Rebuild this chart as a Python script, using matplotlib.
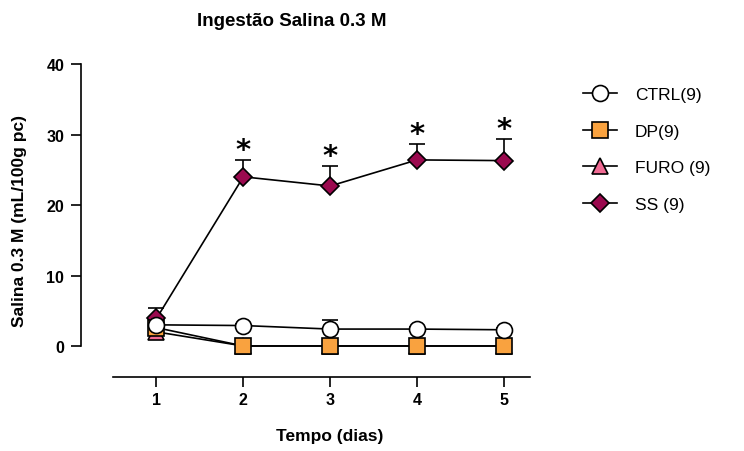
import numpy as np
import matplotlib
matplotlib.use("Agg")
import matplotlib.pyplot as plt
from matplotlib.lines import Line2D

plt.rcParams["font.family"] = ["Liberation Sans", "DejaVu Sans"]

# -------------------------
# Data
# -------------------------
days = [1, 2, 3, 4, 5]

ctrl = [3.0, 2.9, 2.4, 2.4, 2.3]
ctrl_err = [0.3, 0.2, 1.3, 0.3, 0.2]

dp = [2.6, 0.0, 0.0, 0.0, 0.0]
dp_err = [0.2, 0.0, 0.0, 0.0, 0.0]

furo = [2.0, 0.0, 0.0, 0.0, 0.0]
furo_err = [0.2, 0.0, 0.0, 0.0, 0.0]

ss = [3.9, 24.0, 22.7, 26.4, 26.3]
ss_err = [1.5, 2.4, 2.9, 2.3, 3.1]

signif_days = [2, 3, 4, 5]

labels = ["CTRL(9)", "DP(9)", "FURO (9)", "SS (9)"]

# -------------------------
# Plot
# -------------------------
fig = plt.figure(figsize=(7.44, 4.52), dpi=100)
ax = fig.add_axes([81 / 744, 1 - 378 / 452, (530 - 81) / 744, (378 - 58) / 452])

series = [
    (ss, ss_err, "D", "#9b0a4f", 9.5, labels[3]),
    (furo, furo_err, "^", "#f06a93", 11, labels[2]),
    (dp, dp_err, "s", "#f9a23f", 11, labels[1]),
    (ctrl, ctrl_err, "o", "white", 11.5, labels[0]),
]

handles = {}
for vals, err, mk, col, ms, lab in series:
    vals = np.array(vals)
    err = np.array(err)
    ax.errorbar(
        days, vals,
        yerr=[np.zeros_like(err), err],
        color="black", lw=1.2, elinewidth=1.2, capsize=6, capthick=1.2,
        marker=mk, markersize=ms, markerfacecolor=col,
        markeredgecolor="black", markeredgewidth=1.2,
        clip_on=False,
    )
    handles[lab] = Line2D([], [], color="black", lw=1.2, marker=mk, markersize=ms,
                          markerfacecolor=col, markeredgecolor="black",
                          markeredgewidth=1.2)

# Significance marks
for d in signif_days:
    i = days.index(d)
    ax.text(d, ss[i] + ss_err[i] - 0.6, "*", ha="center", va="bottom",
            fontsize=21, fontweight="bold", family="DejaVu Sans")

ax.set_xlim(0.131, 5.3)
ax.set_ylim(-4.4, 41)
ax.set_xticks(days)
ax.set_yticks([0, 10, 20, 30, 40])

ax.spines["top"].set_visible(False)
ax.spines["right"].set_visible(False)
ax.spines["left"].set_bounds(0, 40)
ax.spines["bottom"].set_bounds(0.5, 5.3)
ax.spines["left"].set_linewidth(1.2)
ax.spines["bottom"].set_linewidth(1.2)

ax.tick_params(axis="both", width=1.2, length=7, labelsize=11.5)
ax.tick_params(axis="x", pad=4)
ax.tick_params(axis="y", pad=5)
for lbl in ax.get_xticklabels() + ax.get_yticklabels():
    lbl.set_fontweight("bold")

fig.text(292 / 744, 1 - 21 / 452, "Ingestão Salina 0.3 M", ha="center", va="center",
         fontsize=13.5, fontweight="bold")
fig.text(330 / 744, 1 - 437 / 452, "Tempo (dias)", ha="center", va="center",
         fontsize=12.5, fontweight="bold")
fig.text(20 / 744, 1 - 221 / 452, "Salina 0.3 M (mL/100g pc)", ha="center", va="center",
         rotation=90, fontsize=12.5, fontweight="bold")

leg = ax.legend(
    [handles[l] for l in labels], labels,
    loc="upper left", bbox_to_anchor=(567 / 744, 1 - 72 / 452),
    bbox_transform=fig.transFigure, frameon=False,
    fontsize=12.5, handlelength=2.0, handletextpad=1.0, labelspacing=1.25,
)

fig.savefig("out.png", dpi=100)
